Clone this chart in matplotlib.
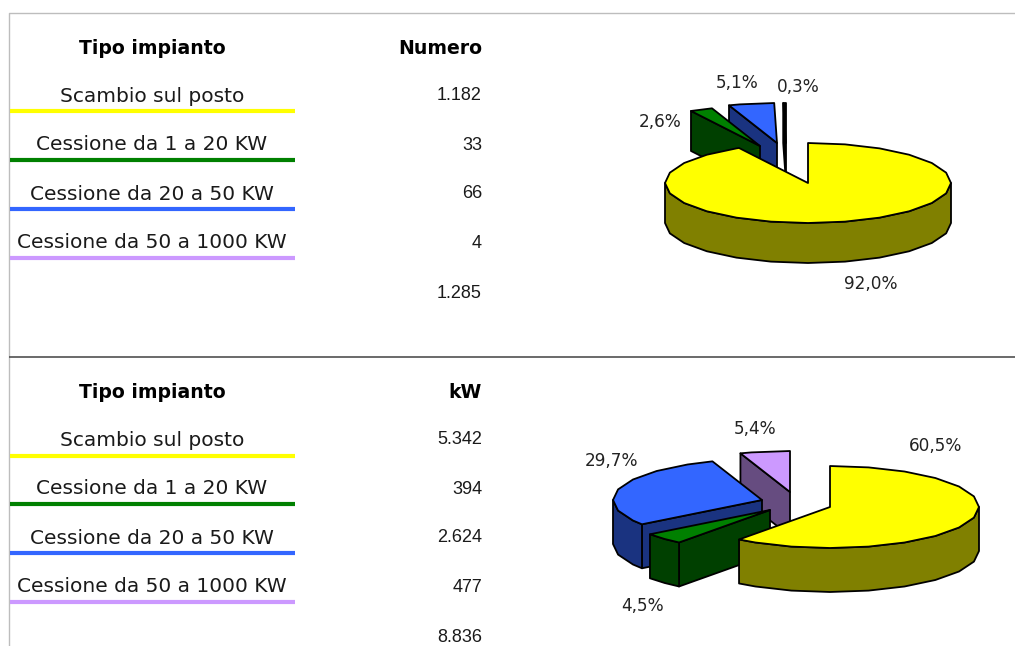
import numpy as np
import matplotlib
matplotlib.use("Agg")
import matplotlib.pyplot as plt
from matplotlib.patches import Polygon

# ---------- data ----------
tipi = ["Scambio sul posto", "Cessione da 1 a 20 KW", "Cessione da 20 a 50 KW", "Cessione da 50 a 1000 KW"]
numero = [1182, 33, 66, 4]
numero_txt = ["1.182", "33", "66", "4"]
numero_tot = "1.285"
kw = [5342, 394, 2624, 477]
kw_txt = ["5.342", "394", "2.624", "477"]
kw_tot = "8.836"
pct_numero = ["92,0%", "2,6%", "5,1%", "0,3%"]
pct_kw = ["60,5%", "4,5%", "29,7%", "5,4%"]

# ---------- styles ----------
line_cols = ["#FFFF00", "#008000", "#3366FF", "#CC99FF"]
top_cols_1 = ["#FFFF00", "#008000", "#3366FF", "#000000"]
side_cols_1 = ["#808000", "#004000", "#1A3380", "#000000"]
top_cols_2 = ["#FFFF00", "#008000", "#3366FF", "#CC99FF"]
side_cols_2 = ["#808000", "#004000", "#1A3380", "#664C80"]
FONT = "DejaVu Sans"
NUM_FONT = "Liberation Sans"
FS = 14.5
FS_NUM = 13.0
FS_HEAD = 13.6
FS_PCT = 12.2
TXT = "#1A1A1A"

fig = plt.figure(figsize=(10.15, 6.46), dpi=100, facecolor="white")
ax = fig.add_axes([0, 0, 1, 1])
ax.set_xlim(0, 1015)
ax.set_ylim(646, 0)
ax.axis("off")

# frame
ax.plot([9, 9, 1015], [646, 13, 13], color="#BDBDBD", lw=1.0, solid_capstyle="butt")
ax.plot([9, 1015], [356.5, 356.5], color="#505050", lw=1.2, solid_capstyle="butt")


def table(y_head, ys, ys_line, y_tot, head, vals, tot):
    ax.text(152, y_head, "Tipo impianto", ha="center", va="center", family=FONT,
            fontsize=FS_HEAD, fontweight="bold", color="black")
    ax.text(482, y_head, head, ha="right", va="center", family=FONT,
            fontsize=FS_HEAD, fontweight="bold", color="black")
    for name, v, y, yl, c in zip(tipi, vals, ys, ys_line, line_cols):
        ax.text(152, y, name, ha="center", va="center", family=FONT, fontsize=FS, color=TXT)
        ax.text(482, y, v, ha="right", va="center", family=NUM_FONT, fontsize=FS_NUM, color=TXT)
        ax.plot([10, 295], [yl, yl], color=c, lw=3.0, solid_capstyle="butt")
    ax.text(482, y_tot, tot, ha="right", va="center", family=NUM_FONT, fontsize=FS_NUM, color=TXT)


table(49, [96, 145, 194, 243], [111, 160, 209, 258], 294, "Numero", numero_txt, numero_tot)
table(393, [440, 489, 538, 587], [455.5, 504, 553, 602], 638, "kW", kw_txt, kw_tot)


def arc(cx, cy, rx, ry, a0, a1):
    grid = np.arange(0, 361, 15.0)
    inner = grid[(grid > a0 + 1e-6) & (grid < a1 - 1e-6)]
    a = np.radians(np.concatenate([[a0], inner, [a1]]))
    return np.column_stack([cx + rx * np.sin(a), cy - ry * np.cos(a)])


def pie3d(values, center, rx, ry, depth, offsets, order, tops, sides):
    v = np.asarray(values, float)
    edges = np.concatenate([[0], np.cumsum(v) / v.sum() * 360])
    kw_ed = dict(edgecolor="black", lw=1.3, joinstyle="round")
    for i in order:
        a0, a1 = edges[i], edges[i + 1]
        cx, cy = center[0] + offsets[i][0], center[1] + offsets[i][1]
        drop = np.array([0, depth])
        apex = np.array([cx, cy])
        # radial cut faces turned towards the viewer
        for ang, visible in ((a0, np.sin(np.radians(a0)) < -1e-6), (a1, np.sin(np.radians(a1)) > 1e-6)):
            if visible:
                p = arc(cx, cy, rx, ry, ang, ang)[0]
                ax.add_patch(Polygon([apex, p, p + drop, apex + drop], closed=True, facecolor=sides[i], **kw_ed))
        # outer rim
        f0, f1 = max(a0, 90), min(a1, 270)
        if f1 > f0:
            rim = arc(cx, cy, rx, ry, f0, f1)
            ax.add_patch(Polygon(np.vstack([rim, (rim + drop)[::-1]]), closed=True, facecolor=sides[i], **kw_ed))
        # top surface
        top = np.vstack([apex, arc(cx, cy, rx, ry, a0, a1)])
        ax.add_patch(Polygon(top, closed=True, facecolor=tops[i], **kw_ed))


pie3d(numero, (808, 183), 143, 40, 40,
      [(0, 0), (-48, -37), (-31, -40), (-22, -40)], [3, 2, 1, 0], top_cols_1, side_cols_1)
pie3d(kw, (830, 507), 149, 41, 44,
      [(0, 0), (-60, 3), (-68, -7), (-40, -15)], [3, 2, 1, 0], top_cols_2, side_cols_2)

for txt, (x, y) in zip(pct_numero, [(871, 284), (660, 122), (737, 83), (798, 87)]):
    ax.text(x, y, txt, ha="center", va="center", family=FONT, fontsize=FS_PCT, color="#222222")
for txt, (x, y) in zip(pct_kw, [(936, 446), (643, 606), (612, 461), (755, 429)]):
    ax.text(x, y, txt, ha="center", va="center", family=FONT, fontsize=FS_PCT, color="#222222")

fig.savefig("out.png", dpi=100)
